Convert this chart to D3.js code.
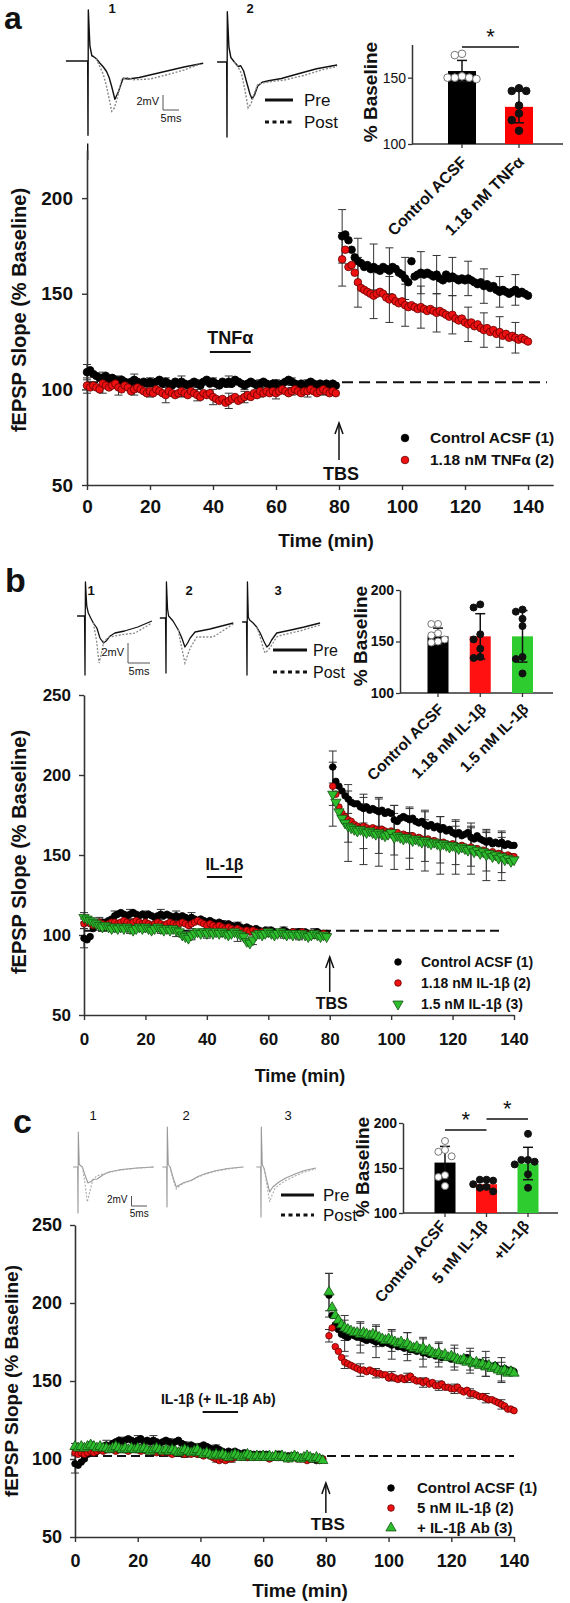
<!DOCTYPE html>
<html><head><meta charset="utf-8">
<script src="https://cdn.jsdelivr.net/npm/d3@7"></script>
<style>body{margin:0;background:#fff}svg{display:block}</style>
</head><body><svg id="fig" width="570" height="1603"></svg>
<script>
// ================= DATA =================
const timesPre = d3.range(0, 80);          // min, sampled each minute
const timesPost = d3.range(81, 141);
const errTimesPre = d3.range(0, 80, 5);
const errTimesPost = d3.range(81, 141, 5);
const xTicks = [0, 20, 40, 60, 80, 100, 120, 140];

// ---- panel a ----
const aCtrlPre = [109,110,108,107,106,106,107,105,106,105,104,105,104,103,104,105,104,103,104,103,104,103,104,105,103,104,103,102,104,103,104,103,102,103,104,103,102,104,105,103,104,103,102,104,103,104,103,105,104,103,102,103,104,103,102,103,104,103,102,103,103,102,103,104,105,104,103,102,103,102,103,104,103,102,103,102,103,102,103,102];
const aTnfPre = [102,101,102,101,100,103,102,101,102,103,101,100,102,101,99,100,101,100,99,98,99,98,100,99,98,97,99,98,97,98,99,98,97,99,98,97,96,98,97,98,96,95,94,95,93,94,95,96,94,95,96,97,96,98,97,99,98,99,98,99,98,99,100,99,98,99,100,99,98,99,99,100,99,98,99,100,99,98,99,98];
const aCtrlPost = [180,181,178,173,169,167,166,164,165,163,164,163,162,164,163,162,164,163,161,160,158,156,167,159,160,161,160,161,160,159,160,158,157,160,158,159,158,157,158,157,158,157,156,155,156,154,155,153,154,152,151,152,151,150,151,152,150,151,150,149];
const aTnfPost = [168,173,164,165,161,156,153,152,151,150,149,150,151,150,148,147,148,146,145,146,144,143,144,143,142,143,142,141,142,141,140,141,140,139,138,139,137,136,137,135,134,135,133,134,132,131,132,130,131,129,130,128,129,127,128,127,126,127,126,125];
const aCtrlErrPre = [4,3,3,3,2,2,3,2,2,3,2,2,2,2,2,2];
const aTnfErrPre = [4,5,4,3,3,4,3,3,4,4,3,3,3,2,3,3];
const aCtrlErrPost = [14,12,12,12,11,11,10,10,9,9,8,8];
const aTnfErrPost = [14,13,12,12,11,11,10,10,9,9,8,8];
const aNames = ["Control ACSF (1)", "1.18 nM TNF\u03b1 (2)"];
const aBarCats = ["Control ACSF", "1.18 nM TNF\u03b1"];
const aBarMeans = [155, 128];
const aBarErr = [8, 12];
const aBarPts = [[168,167,150,151,149,150,150],[142,140,140,129,123,118,110]];

// ---- panel b ----
const bCtrlPre = [98,97,99,104,106,107,108,108,109,110,112,113,114,113,112,113,114,113,112,113,112,113,112,111,112,113,112,113,112,111,112,111,112,111,110,111,110,109,110,109,108,109,108,107,108,107,106,107,106,105,106,105,104,105,104,103,104,103,102,103,102,103,102,101,102,103,102,101,102,101,102,101,102,101,100,101,102,101,100,101];
const bIl118Pre = [107,108,107,106,107,108,107,106,107,108,108,107,108,109,108,107,108,109,108,107,108,107,106,107,108,107,106,107,108,107,106,107,108,107,106,107,108,109,108,107,106,107,106,105,106,105,104,105,104,103,104,103,102,103,102,103,102,101,102,101,102,101,100,101,102,101,100,101,102,101,101,102,101,100,101,100,101,100,101,100];
const bIl15Pre = [111,110,109,108,107,106,105,106,105,104,105,104,105,104,105,104,103,104,105,104,105,104,103,104,105,104,103,104,103,104,103,102,100,99,98,100,101,102,101,102,101,102,101,102,101,102,101,100,101,102,101,100,99,96,95,97,100,101,100,101,102,101,100,101,102,101,100,101,100,101,100,101,100,99,100,101,100,99,100,99];
const bCtrlPost = [205,196,193,190,187,185,183,182,182,180,179,180,178,179,178,177,178,176,177,176,172,171,173,174,173,172,173,171,170,171,169,168,169,167,168,166,167,165,166,164,163,164,162,163,164,161,160,162,160,159,158,159,157,158,157,158,156,157,156,156];
const bIl118Post = [193,188,180,176,174,172,171,169,168,167,168,167,166,167,166,165,166,165,164,165,163,164,162,163,162,161,162,160,161,160,159,160,158,159,158,157,158,157,156,157,156,155,156,155,154,155,153,154,152,153,152,151,152,150,151,150,149,150,149,149];
const bIl15Post = [188,183,177,173,170,168,167,166,165,166,165,164,165,164,163,164,163,162,163,164,161,162,161,160,161,160,159,160,159,158,159,158,157,158,157,156,157,156,155,156,155,154,155,154,153,154,152,153,151,152,150,151,149,150,148,149,147,148,146,147];
const bCtrlErrPre = [6,3,3,3,3,3,3,3,2,2,2,2,2,2,2,2];
const bIl118ErrPre = [3,3,3,3,3,3,3,3,3,2,2,2,2,2,2,2];
const bIl15ErrPre = [3,3,3,3,3,3,4,3,3,3,5,3,3,3,3,3];
const bCtrlErrPost = [10,9,9,9,9,8,8,8,8,7,7,7];
const bIl118ErrPost = [12,14,14,14,13,13,13,12,12,12,12,11];
const bIl15ErrPost = [20,22,21,21,20,19,19,18,17,16,16,15];
const bNames = ["Control ACSF (1)", "1.18 nM IL-1\u03b2 (2)", "1.5 nM IL-1\u03b2 (3)"];
const bBarCats = ["Control ACSF", "1.18 nM IL-1\u03b2", "1.5 nM IL-1\u03b2"];
const bBarMeans = [155, 155, 155];
const bBarErr = [8, 22, 25];
const bBarPts = [[167,167,156,158,150,149,152],[186,183,157,152,143,134,135],[181,179,172,165,135,133,119]];

// ---- panel c ----
const cCtrlPre = [97,96,98,100,103,105,106,105,107,108,109,108,110,111,112,111,112,113,112,111,112,113,111,112,111,112,111,110,111,112,111,110,111,112,110,109,108,109,108,107,108,109,108,107,106,107,106,105,104,105,104,105,104,103,104,103,102,103,102,103,102,103,102,101,102,103,102,101,102,101,102,101,100,101,100,101,100,99,100,100];
const cIl5Pre = [104,103,104,103,104,105,104,105,106,105,106,107,106,105,106,107,106,105,106,107,106,105,106,105,106,105,104,105,104,105,104,103,104,105,104,103,104,103,104,103,103,102,103,102,101,100,99,100,99,100,100,101,102,101,102,101,102,101,102,101,102,101,100,101,102,101,102,101,100,101,101,100,101,100,99,100,101,100,99,100];
const cAbPre = [108,107,108,107,108,109,108,107,108,107,107,106,107,108,107,106,107,106,107,106,107,106,107,106,105,106,107,106,105,106,105,106,105,104,105,106,105,104,105,106,104,103,104,103,102,103,102,103,102,101,102,103,102,101,102,103,102,101,102,101,102,101,102,101,102,101,102,101,100,101,102,101,100,101,102,101,100,101,100,99];
const cCtrlPost = [205,192,186,183,180,179,178,180,179,178,178,177,176,177,176,175,176,174,175,174,173,174,172,172,171,172,170,170,169,170,168,168,167,168,166,167,165,166,165,164,165,164,163,164,165,163,162,161,162,160,161,160,159,160,158,157,158,157,157,156];
const cIl5Post = [179,184,172,169,165,162,161,160,159,158,157,157,156,157,156,155,155,154,154,152,153,152,151,152,151,152,153,151,150,150,149,150,148,149,147,147,148,146,146,145,145,146,144,143,144,142,142,141,140,140,139,138,138,137,136,135,134,132,132,131];
const cAbPost = [207,197,192,189,186,184,183,182,181,181,180,181,180,179,180,179,178,177,176,177,176,175,174,175,173,174,172,171,172,170,171,169,170,168,167,168,166,167,165,166,165,164,163,164,162,163,161,162,160,161,159,160,158,159,157,156,157,155,156,155];
const cCtrlErrPre = [6,3,3,3,3,3,2,2,2,2,2,2,2,2,2,2];
const cIl5ErrPre = [2,2,2,2,2,2,2,2,2,2,2,2,2,2,2,2];
const cAbErrPre = [2,2,2,2,2,2,2,2,2,2,2,2,2,2,2,2];
const cCtrlErrPost = [14,10,10,10,9,9,9,8,8,8,8,8];
const cIl5ErrPost = [4,4,4,3,3,3,3,3,3,3,3,3];
const cAbErrPost = [12,8,7,7,7,7,7,6,6,6,6,6];
const cNames = ["Control ACSF (1)", "5 nM IL-1\u03b2 (2)", "+ IL-1\u03b2 Ab (3)"];
const cBarCats = ["Control ACSF", "5 nM IL-1\u03b2", "+IL-1\u03b2"];
const cBarMeans = [156, 132, 155];
const cBarErr = [18, 5, 18];
const cBarPts = [[180,170,168,163,142,140,130],[136,137,137,129,132,128,124],[188,159,159,157,154,143,128]];

// ---- example fEPSP traces: [ms, mV] ----
const aTr1Pre = [[-6.9,0],[-0.1,0],[0,-9.9],[0.1,6.8],[0.6,2.0],[1.2,0.7],[1.7,0.6],[2.6,0.3],[3.75,-0.3],[4.8,-0.8],[5.8,-1.4],[6.6,-2.2],[7.4,-3.4],[8.4,-5.1],[9.5,-4.1],[10.4,-3.0],[11,-2.3],[12.6,-2.4],[16,-2.2],[20,-1.8],[25,-1.3],[30,-0.8],[36,-0.3]];
const aTr1Post = [[2.6,0.3],[3.75,-0.8],[4.8,-1.8],[5.8,-3.4],[6.6,-5.0],[7.4,-6.7],[8.2,-6.3],[9,-5.2],[9.8,-3.8],[10.5,-2.5],[12.1,-2.2],[14.2,-2.5],[19.4,-2.4],[25,-1.8],[30,-1.2],[35,-0.4]];
const aTr2Pre = [[-3.1,0],[-0.1,0],[0,-10],[0.1,6.7],[0.6,2.0],[1.2,0.6],[2.3,0],[3.5,-0.6],[4.3,-0.5],[5.2,-1.2],[6.2,-2.8],[7.2,-4.3],[7.8,-4.9],[8.6,-4.4],[9.6,-3.2],[11,-2.7],[13,-2.5],[17,-2.2],[22,-1.6],[28,-0.9],[34.4,-0.4]];
const aTr2Post = [[2.3,0],[3.5,-0.7],[4.5,-1.5],[5.5,-3.5],[6.6,-6.1],[7.5,-5.6],[8.5,-4.2],[9.6,-3.0],[11,-2.8],[14,-2.6],[18,-2.4],[24,-1.8],[30,-1.0],[34.4,-0.6]];
const bTr1Pre = [[-1.8,0],[-0.1,0],[0,-5.9],[0.1,3.4],[0.4,1.0],[0.75,0.3],[1.3,-0.2],[1.9,-0.7],[2.7,-1.2],[3.4,-2.2],[4.2,-2.7],[4.8,-2.5],[5.7,-2.0],[6.8,-1.7],[9,-1.5],[12,-1.1],[15.2,-0.5]];
const bTr1Post = [[1.9,-0.7],[2.6,-2.4],[3.2,-4.7],[3.6,-4.0],[4.3,-2.5],[5.6,-2.1],[8,-1.9],[11.4,-1.7],[15.2,-0.7]];
const bTr2Pre = [[-1.4,0],[-0.1,0],[0,-5.5],[0.1,3.6],[0.35,0.9],[0.6,0.2],[1.6,-0.3],[2.8,-1.2],[3.6,-2.0],[4.3,-2.9],[4.9,-2.5],[5.5,-2.0],[6.6,-1.4],[10,-1.1],[15.3,-0.5]];
const bTr2Post = [[2.8,-1.2],[3.2,-2.2],[4.3,-4.5],[5.0,-3.6],[5.5,-3.0],[7,-1.9],[10.7,-1.9],[15.3,-0.6]];
const bTr3Pre = [[-1.1,0],[-0.1,0],[0,-5.3],[0.1,4.0],[0.3,0.5],[0.6,0.2],[1.4,-0.1],[2.2,-0.5],[3,-1.1],[3.8,-1.9],[4.5,-2.5],[5,-2.3],[5.6,-1.8],[6.75,-1.1],[10,-0.8],[13,-0.5],[16.6,-0.1]];
const bTr3Post = [[2.2,-0.5],[3,-1.5],[3.7,-2.6],[4.1,-3.1],[4.6,-2.9],[5.2,-2.6],[6.75,-1.5],[8,-1.3],[12,-0.9],[16.6,-0.3]];
const cTr1Pre = [[-1.6,0],[-0.1,0],[0,-9.2],[0.1,7],[0.4,0.5],[1.4,0],[2.2,-1.5],[3.2,-3.2],[4.2,-2.9],[5,-2.5],[6.2,-2.4],[8,-1.6],[10,-1.0],[14,-0.5],[19,-0.2],[24.5,0]];
const cTr1Post = [[1.4,0],[2.2,-3.0],[3.0,-7.0],[3.8,-5.0],[4.8,-2.5],[6,-1.8],[8,-1.4],[12,-0.8],[18,-0.3],[24.5,0]];
const cTr2Pre = [[-1.5,0],[-0.1,0],[0,-8],[0.1,8],[0.4,0.5],[1,0],[2,-2.2],[3,-4.0],[4,-3.6],[5.5,-3.1],[7.7,-2.7],[10,-1.9],[12.5,-1.3],[16,-0.7],[19.6,-0.3],[24.6,0]];
const cTr2Post = [[1,0],[2,-2.6],[3,-4.4],[4,-3.8],[5.5,-3.2],[7.7,-2.8],[10,-2.0],[12.5,-1.4],[16,-0.8],[19.6,-0.4],[24.6,0]];
const cTr3Pre = [[-1.5,0],[-0.1,0],[0,-10],[0.1,8],[0.4,0.5],[1,-0.3],[2,-3.0],[2.8,-5.0],[3.8,-4.0],[5.8,-3.0],[8,-2.2],[11,-1.4],[14,-0.7],[17.7,-0.2]];
const cTr3Post = [[1,-0.3],[2,-4.0],[2.8,-7.0],[3.6,-5.6],[4.6,-4.2],[6,-3.5],[8,-2.7],[11,-1.8],[14,-1.0],[17.7,-0.4]];

// ================= DRAWING =================
const svg = d3.select("#fig");
const FONT = "'Liberation Sans', Arial, Helvetica, sans-serif";
const RED = "#ee1111", GREEN = "#2dbd2d";

function txt(g, x, y, s, o = {}) {
  const t = g.append("text").attr("x", x).attr("y", y).text(s)
    .attr("font-family", FONT).attr("font-size", o.fs || 14)
    .attr("font-weight", o.bold === false ? "normal" : "bold")
    .attr("fill", o.fill || "#111").attr("text-anchor", o.anchor || "start");
  if (o.rot) t.attr("transform", `rotate(${o.rot},${x},${y})`);
  if (o.dy) t.attr("dy", o.dy);
  return t;
}

function marker(g, shape, cx, cy, r, fill, stroke) {
  if (shape === "circle") {
    g.append("circle").attr("cx", cx).attr("cy", cy).attr("r", r)
      .attr("fill", fill).attr("stroke", stroke).attr("stroke-width", 0.8);
  } else {
    const sym = d3.symbol().type(d3.symbolTriangle).size(r * r * 4.2);
    const rot = shape === "tridown" ? 180 : 0;
    g.append("path").attr("d", sym()).attr("transform", `translate(${cx},${cy}) rotate(${rot})`)
      .attr("fill", fill).attr("stroke", stroke).attr("stroke-width", 0.8);
  }
}

function drawMain(c) {
  const g = svg.append("g");
  const x = d3.scaleLinear().domain([0, 140]).range(c.xr);
  const y = d3.scaleLinear().domain([50, c.ytop]).range(c.yr);
  const xa = d3.scaleLinear().domain([0, c.xmax]).range([x(0), x(c.xmax)]);
  const gx = g.append("g").attr("transform", `translate(0,${y(50)})`)
    .call(d3.axisBottom(xa).tickValues(xTicks).tickSize(5).tickSizeOuter(0).tickPadding(c.xpad));
  const gy = g.append("g").attr("transform", `translate(${x(0)},0)`)
    .call(d3.axisLeft(y).tickValues(c.yticks).tickSize(5).tickSizeOuter(0).tickPadding(c.ypad));
  [gx, gy].forEach(a => {
    a.attr("font-family", FONT).attr("font-size", c.tickFs).attr("font-weight", "bold");
    a.select(".domain").attr("stroke", "#333").attr("stroke-width", 1.6);
    a.selectAll(".tick line").attr("stroke", "#333").attr("stroke-width", 1.4);
    a.selectAll(".tick text").attr("fill", "#111");
  });
  txt(g, c.xTitle[0], c.xTitle[1], "Time (min)", {fs: c.titleFs, anchor: "middle"});
  txt(g, c.yTitle[0], c.yTitle[1], "fEPSP Slope (% Baseline)", {fs: c.yTitleFs, anchor: "middle", rot: -90});

  // baseline dashed line
  g.append("line").attr("x1", x(0)).attr("x2", x(c.dashEnd)).attr("y1", y(c.dashV)).attr("y2", y(c.dashV))
    .attr("stroke", "#111").attr("stroke-width", 2).attr("stroke-dasharray", c.dash);

  // drug application bar
  txt(g, x((c.drug[0] + c.drug[1]) / 2) + (c.drugDx || 0), c.drugTextY, c.drugLabel, {fs: c.drugFs, anchor: "middle"});
  g.append("line").attr("x1", x(c.drug[0])).attr("x2", x(c.drug[1])).attr("y1", c.drugLineY).attr("y2", c.drugLineY)
    .attr("stroke", "#111").attr("stroke-width", 2);

  // TBS arrow
  const ax = x(80);
  g.append("line").attr("x1", ax).attr("x2", ax).attr("y1", c.arrow[1]).attr("y2", c.arrow[0]).attr("stroke", "#111").attr("stroke-width", 1.5);
  g.append("path").attr("d", `M${ax - 4},${c.arrow[0] + 11}L${ax},${c.arrow[0]}L${ax + 4},${c.arrow[0] + 11}`)
    .attr("fill", "none").attr("stroke", "#111").attr("stroke-width", 1.5);
  txt(g, ax + 2, c.tbsY, "TBS", {fs: c.tbsFs, anchor: "middle"});

  // error bars
  const eg = g.append("g").attr("stroke", "#333").attr("stroke-width", 1);
  c.series.forEach(s => {
    const pts = errTimesPre.map((t, i) => [t, s.pre[timesPre.indexOf(t)], s.errPre[i]])
      .concat(errTimesPost.map((t, i) => [t, s.post[timesPost.indexOf(t)], s.errPost[i]]));
    pts.forEach(([t, v, e]) => {
      const px = x(t);
      eg.append("line").attr("x1", px).attr("x2", px).attr("y1", y(v - e)).attr("y2", y(v + e));
      [v - e, v + e].forEach(w => eg.append("line").attr("x1", px - c.cap).attr("x2", px + c.cap).attr("y1", y(w)).attr("y2", y(w)));
    });
  });
  // points
  c.series.forEach(s => {
    const mg = g.append("g");
    timesPre.forEach((t, i) => marker(mg, s.shape, x(t), y(s.pre[i]), c.r, s.fill, s.stroke));
    timesPost.forEach((t, i) => marker(mg, s.shape, x(t), y(s.post[i]), c.r, s.fill, s.stroke));
  });
  // legend
  c.series.forEach((s, i) => {
    const ly = c.leg[1] + i * c.leg[3];
    marker(g, s.shape, c.leg[0], ly, c.r, s.fill, s.stroke);
    txt(g, c.leg[2], ly, s.name, {fs: c.legFs, dy: "0.35em"});
  });
}

function drawInset(c) {
  const g = svg.append("g");
  const y = d3.scaleLinear().domain([100, c.ytop]).range(c.yr);
  const x = d3.scalePoint().domain(c.cats).range(c.cr);
  const gy = g.append("g").attr("transform", `translate(${c.ax},0)`)
    .call(d3.axisLeft(y).tickValues(c.yticks).tickSize(4).tickSizeOuter(0).tickPadding(2));
  gy.attr("font-family", FONT).attr("font-size", c.tickFs).attr("font-weight", c.tickBold ? "bold" : "normal");
  gy.select(".domain").attr("stroke", "#333").attr("stroke-width", 1.5);
  gy.selectAll(".tick line").attr("stroke", "#333").attr("stroke-width", 1.3);
  gy.selectAll(".tick text").attr("fill", "#111");
  g.append("line").attr("x1", c.ax).attr("x2", c.axEnd).attr("y1", y(100)).attr("y2", y(100)).attr("stroke", "#333").attr("stroke-width", 1.5);
  c.cats.forEach(k => g.append("line").attr("x1", x(k)).attr("x2", x(k)).attr("y1", y(100)).attr("y2", y(100) + 4).attr("stroke", "#333").attr("stroke-width", 1.3));
  txt(g, c.yTitle[0], c.yTitle[1], "% Baseline", {fs: c.titleFs, anchor: "middle", rot: -90});
  c.cats.forEach((k, i) => {
    const cx = x(k);
    g.append("rect").attr("x", cx - c.bw / 2).attr("width", c.bw).attr("y", y(c.means[i])).attr("height", y(100) - y(c.means[i])).attr("fill", c.colors[i]);
    const top = y(c.means[i] + c.err[i]), bot = y(c.means[i] - c.err[i]);
    g.append("line").attr("x1", cx).attr("x2", cx).attr("y1", top).attr("y2", bot).attr("stroke", "#111").attr("stroke-width", 1.5);
    [top, bot].forEach(yy => g.append("line").attr("x1", cx - 5).attr("x2", cx + 5).attr("y1", yy).attr("y2", yy).attr("stroke", "#111").attr("stroke-width", 1.5));
    // beeswarm placement of individual slices
    const placed = [];
    const order = c.pts[i].map((v, j) => [v, j]).sort((a, b) => b[0] - a[0]);
    order.forEach(([v]) => {
      const py = y(v);
      const cands = [0, -1, 1, -2, 2, -3, 3].map(k2 => k2 * c.pr * 1.9);
      let off = cands.find(o => placed.every(p => Math.hypot(p[0] - o, p[1] - py) >= c.pr * 1.9)) ?? 0;
      placed.push([off, py]);
      const open = i === 0;
      g.append("circle").attr("cx", cx + off).attr("cy", py).attr("r", c.pr)
        .attr("fill", open ? "#fff" : "#111").attr("stroke", open ? "#777" : "#111").attr("stroke-width", 1);
    });
    txt(g, cx + c.labDx, y(100) + c.labDy, k, {fs: c.labFs, anchor: "end", rot: c.labRot});
  });
  (c.sig || []).forEach(s => {
    g.append("line").attr("x1", x(c.cats[s[0]])).attr("x2", x(c.cats[s[1]])).attr("y1", s[2]).attr("y2", s[2]).attr("stroke", "#111").attr("stroke-width", 1.5);
    txt(g, (x(c.cats[s[0]]) + x(c.cats[s[1]])) / 2, s[2] - 3, "*", {fs: 22, anchor: "middle", bold: false});
  });
}

function drawTrace(g, ox, oy, pxMs, pxMv, pre, post, col, postCol, w) {
  const line = d3.line().x(d => ox + d[0] * pxMs).y(d => oy - d[1] * pxMv);
  g.append("path").attr("d", line(pre)).attr("fill", "none").attr("stroke", col).attr("stroke-width", w).attr("stroke-linejoin", "round");
  g.append("path").attr("d", line(post)).attr("fill", "none").attr("stroke", postCol).attr("stroke-width", w).attr("stroke-dasharray", "2,1.6");
}
function drawScaleBar(g, cx, cy, pxMs, pxMv, fs) {
  g.append("path").attr("d", `M${cx},${cy - 2 * pxMv}L${cx},${cy}L${cx + 5 * pxMs},${cy}`).attr("fill", "none").attr("stroke", "#555").attr("stroke-width", 1);
  txt(g, cx - 4, cy - pxMv * 0.7, "2mV", {fs, bold: false, anchor: "end"});
  txt(g, cx + 2.5 * pxMs, cy + fs + 1, "5ms", {fs, bold: false, anchor: "middle"});
}
function drawPrePost(g, x0, x1, y1, y2, tx, fs) {
  g.append("line").attr("x1", x0).attr("x2", x1).attr("y1", y1).attr("y2", y1).attr("stroke", "#111").attr("stroke-width", 3);
  g.append("line").attr("x1", x0).attr("x2", x1).attr("y1", y2).attr("y2", y2).attr("stroke", "#111").attr("stroke-width", 3).attr("stroke-dasharray", "4,3.5");
  txt(g, tx, y1, "Pre", {fs, dy: "0.35em", bold: false});
  txt(g, tx, y2, "Post", {fs, dy: "0.35em", bold: false});
}

// ---------- panel a ----------
{
  const g = svg.append("g");
  txt(g, 4, 29, "a", {fs: 32});
  txt(g, 112, 13, "1", {fs: 13, anchor: "middle"});
  txt(g, 250, 13, "2", {fs: 13, anchor: "middle"});
  drawTrace(g, 88, 61, 3.2, 7.5, aTr1Pre, aTr1Post, "#111", "#888", 1.4);
  drawTrace(g, 227, 62, 3.2, 7.5, aTr2Pre, aTr2Post, "#111", "#888", 1.4);
  g.append("line").attr("x1", 87.7).attr("x2", 87.7).attr("y1", 61 + 11 * 7.5).attr("y2", 61 + 13.2 * 7.5).attr("stroke", "#111").attr("stroke-width", 1.4);
  drawScaleBar(g, 163, 110, 3.2, 7.5, 11);
  drawPrePost(g, 265, 293, 100, 122, 304, 17);
}
drawInset({cats: aBarCats, means: aBarMeans, err: aBarErr, pts: aBarPts, colors: ["#000", "#ff0000"],
  ytop: 175, yr: [144, 44.5], yticks: [100, 150], cr: [462, 519], ax: 412, axEnd: 563, bw: 28, pr: 3.8,
  tickFs: 14, tickBold: false, titleFs: 19, yTitle: [377, 92], labFs: 16, labDx: 6, labDy: 19, labRot: -45, sig: [[0, 1, 47]]});
drawMain({xr: [87, 528], xmax: 148, ytop: 225, yr: [485, 150.3], yticks: [50, 100, 150, 200],
  tickFs: 19, titleFs: 19, yTitleFs: 20, xpad: 10, ypad: 9, xTitle: [326, 547], yTitle: [26, 310],
  dashV: 103.7, dashEnd: 146, dash: "11,6", drug: [39, 52], drugLabel: "TNF\u03b1", drugFs: 18, drugTextY: 344, drugLineY: 352,
  arrow: [423, 460], tbsY: 480, tbsFs: 18, cap: 4, r: 3.8, legFs: 15.5, leg: [405, 438, 430, 22],
  series: [
    {pre: aCtrlPre, post: aCtrlPost, errPre: aCtrlErrPre, errPost: aCtrlErrPost, shape: "circle", fill: "#000", stroke: "#000", name: aNames[0]},
    {pre: aTnfPre, post: aTnfPost, errPre: aTnfErrPre, errPost: aTnfErrPost, shape: "circle", fill: RED, stroke: "#600", name: aNames[1]}
  ]});

// ---------- panel b ----------
{
  const g = svg.append("g");
  txt(g, 5, 592, "b", {fs: 34});
  txt(g, 91, 595, "1", {fs: 13, anchor: "middle"});
  txt(g, 189, 595, "2", {fs: 13, anchor: "middle"});
  txt(g, 278, 595, "3", {fs: 13, anchor: "middle"});
  drawTrace(g, 85, 616, 4.4, 10, bTr1Pre, bTr1Post, "#111", "#888", 1.3);
  drawTrace(g, 166, 618, 4.4, 10, bTr2Pre, bTr2Post, "#111", "#888", 1.3);
  drawTrace(g, 247, 622, 4.4, 10, bTr3Pre, bTr3Post, "#111", "#888", 1.3);
  drawScaleBar(g, 128, 663, 4.4, 10, 11);
  drawPrePost(g, 273, 307, 650, 672, 313, 16);
}
drawInset({cats: bBarCats, means: bBarMeans, err: bBarErr, pts: bBarPts, colors: ["#000", "#ff1111", "#2ecc2e"],
  ytop: 200, yr: [693, 590], yticks: [100, 150, 200], cr: [438, 522.5], ax: 400, axEnd: 553, bw: 21, pr: 3.5,
  tickFs: 14, tickBold: true, titleFs: 19, yTitle: [367, 636], labFs: 15.5, labDx: 7, labDy: 17, labRot: -45});
drawMain({xr: [84, 514], xmax: 140, ytop: 250, yr: [1015, 695], yticks: [50, 100, 150, 200, 250],
  tickFs: 17, titleFs: 18, yTitleFs: 20, xpad: 13, ypad: 8, xTitle: [300, 1082], yTitle: [26, 852],
  dashV: 102.7, dashEnd: 135.5, dash: "9,5", drug: [40, 51.5], drugLabel: "IL-1\u03b2", drugFs: 16, drugTextY: 870, drugLineY: 877,
  arrow: [957, 992], tbsY: 1009, tbsFs: 16, cap: 4, r: 3.3, legFs: 14, leg: [398, 962, 421, 21],
  series: [
    {pre: bCtrlPre, post: bCtrlPost, errPre: bCtrlErrPre, errPost: bCtrlErrPost, shape: "circle", fill: "#000", stroke: "#000", name: bNames[0]},
    {pre: bIl118Pre, post: bIl118Post, errPre: bIl118ErrPre, errPost: bIl118ErrPost, shape: "circle", fill: RED, stroke: "#600", name: bNames[1]},
    {pre: bIl15Pre, post: bIl15Post, errPre: bIl15ErrPre, errPost: bIl15ErrPost, shape: "tridown", fill: GREEN, stroke: "#145214", name: bNames[2]}
  ]});

// ---------- panel c ----------
{
  const g = svg.append("g");
  txt(g, 13, 1133, "c", {fs: 34});
  txt(g, 93, 1120, "1", {fs: 13, anchor: "middle", bold: false});
  txt(g, 186, 1120, "2", {fs: 13, anchor: "middle", bold: false});
  txt(g, 288, 1120, "3", {fs: 13, anchor: "middle", bold: false});
  drawTrace(g, 78, 1167, 3.1, 5, cTr1Pre, cTr1Post, "#999", "#aaa", 1.1);
  drawTrace(g, 167, 1167, 3.1, 5, cTr2Pre, cTr2Post, "#999", "#aaa", 1.1);
  drawTrace(g, 261, 1167, 3.1, 5, cTr3Pre, cTr3Post, "#999", "#aaa", 1.1);
  drawScaleBar(g, 131.5, 1206, 3.1, 5, 10);
  drawPrePost(g, 281, 314, 1195, 1215, 323, 17);
}
drawInset({cats: cBarCats, means: cBarMeans, err: cBarErr, pts: cBarPts, colors: ["#000", "#ff1111", "#2ecc2e"],
  ytop: 200, yr: [1213, 1123], yticks: [100, 150, 200], cr: [445, 528], ax: 403, axEnd: 558, bw: 21, pr: 3.5,
  tickFs: 14, tickBold: true, titleFs: 19, yTitle: [369, 1167], labFs: 15.5, labDx: 2, labDy: 13, labRot: -50, sig: [[0, 1, 1130], [1, 2, 1119]]});
drawMain({xr: [75, 514], xmax: 140, ytop: 250, yr: [1537, 1225], yticks: [50, 100, 150, 200, 250],
  tickFs: 18, titleFs: 19, yTitleFs: 19, xpad: 12, ypad: 8, xTitle: [300, 1597], yTitle: [18, 1381],
  dashV: 102, dashEnd: 140, dash: "9,5", drug: [40.7, 52], drugLabel: "IL-1\u03b2  (+ IL-1\u03b2  Ab)", drugDx: -2, drugFs: 14, drugTextY: 1404, drugLineY: 1412,
  arrow: [1483, 1513], tbsY: 1530, tbsFs: 17, cap: 4, r: 3.3, legFs: 15, leg: [391, 1488, 417, 20],
  series: [
    {pre: cCtrlPre, post: cCtrlPost, errPre: cCtrlErrPre, errPost: cCtrlErrPost, shape: "circle", fill: "#000", stroke: "#000", name: cNames[0]},
    {pre: cIl5Pre, post: cIl5Post, errPre: cIl5ErrPre, errPost: cIl5ErrPost, shape: "circle", fill: RED, stroke: "#600", name: cNames[1]},
    {pre: cAbPre, post: cAbPost, errPre: cAbErrPre, errPost: cAbErrPost, shape: "triup", fill: GREEN, stroke: "#145214", name: cNames[2]}
  ]});
</script></body></html>
